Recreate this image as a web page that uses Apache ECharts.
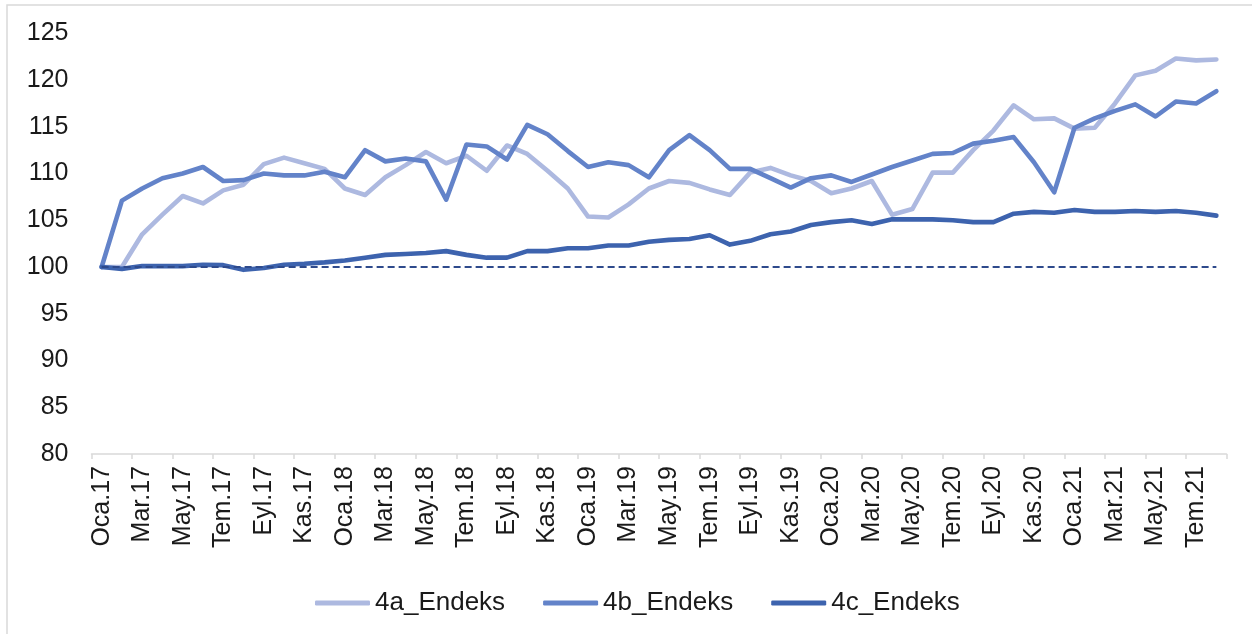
<!DOCTYPE html>
<html>
<head>
<meta charset="utf-8">
<script src="https://cdn.jsdelivr.net/npm/echarts@6/dist/echarts.min.js"></script>
<style>
  html, body { margin: 0; padding: 0; background: #ffffff; }
  #chart { width: 1252px; height: 634px; }
</style>
</head>
<body>
<div id="chart"></div>
<script>
const categories = [
  'Oca.17','Şub.17','Mar.17','Nis.17','May.17','Haz.17','Tem.17','Ağu.17','Eyl.17','Eki.17','Kas.17','Ara.17',
  'Oca.18','Şub.18','Mar.18','Nis.18','May.18','Haz.18','Tem.18','Ağu.18','Eyl.18','Eki.18','Kas.18','Ara.18',
  'Oca.19','Şub.19','Mar.19','Nis.19','May.19','Haz.19','Tem.19','Ağu.19','Eyl.19','Eki.19','Kas.19','Ara.19',
  'Oca.20','Şub.20','Mar.20','Nis.20','May.20','Haz.20','Tem.20','Ağu.20','Eyl.20','Eki.20','Kas.20','Ara.20',
  'Oca.21','Şub.21','Mar.21','Nis.21','May.21','Haz.21','Tem.21','Ağu.21'
];

const seriesNames = ['4a_Endeks', '4b_Endeks', '4c_Endeks'];

const endeks4a = [
  100.0, 100.0, 103.5, 105.6, 107.6, 106.8, 108.2, 108.8, 111.0, 111.7, 111.1, 110.5,
  108.4, 107.7, 109.6, 110.9, 112.3, 111.1, 111.9, 110.3, 113.0, 112.1, 110.3, 108.4,
  105.4, 105.3, 106.7, 108.4, 109.2, 109.0, 108.3, 107.7, 110.1, 110.6, 109.8, 109.2,
  107.9, 108.4, 109.2, 105.6, 106.2, 110.1, 110.1, 112.5, 114.6, 117.3, 115.8, 115.9,
  114.8, 114.9, 117.5, 120.5, 121.0, 122.3, 122.1, 122.2
];

const endeks4b = [
  100.0, 107.1, 108.4, 109.5, 110.0, 110.7, 109.2, 109.3, 110.0, 109.8, 109.8, 110.2,
  109.6, 112.5, 111.3, 111.6, 111.3, 107.2, 113.1, 112.9, 111.5, 115.2, 114.2, 112.4,
  110.7, 111.2, 110.9, 109.6, 112.5, 114.1, 112.5, 110.5, 110.5, 109.5, 108.5, 109.5,
  109.8, 109.1, 109.9, 110.7, 111.4, 112.1, 112.2, 113.2, 113.5, 113.9, 111.2, 108.0,
  114.9, 115.9, 116.7, 117.4, 116.1, 117.7, 117.5, 118.8
];

const endeks4c = [
  100.0, 99.8, 100.1, 100.1, 100.1, 100.25, 100.2, 99.7, 99.9, 100.25, 100.35, 100.5,
  100.7, 101.0, 101.3, 101.4, 101.5, 101.7, 101.3, 101.0, 101.0, 101.7, 101.7, 102.0,
  102.0, 102.3, 102.3, 102.7, 102.9, 103.0, 103.4, 102.4, 102.8, 103.5, 103.8, 104.5,
  104.8, 105.0, 104.6, 105.1, 105.1, 105.1, 105.0, 104.8, 104.8, 105.7, 105.9, 105.8,
  106.1, 105.9, 105.9, 106.0, 105.9, 106.0, 105.8, 105.5
];

const baseLevel = 100;
const yMin = 80, yMax = 125, yStep = 5;

const colors = ['#adb9e0', '#6383c9', '#3d63ae'];
const FONT = "Arial, 'Liberation Sans', sans-serif";

const chart = echarts.init(document.getElementById('chart'), null, { renderer: 'canvas' });

function lineSeries(name, data, color, extra) {
  return Object.assign({
    name: name,
    type: 'line',
    data: data,
    symbol: 'none',
    smooth: false,
    color: color,
    lineStyle: { color: color, width: 4.6, cap: 'round', join: 'round' },
    emphasis: { disabled: true }
  }, extra || {});
}

chart.setOption({
  animation: false,
  backgroundColor: '#ffffff',
  textStyle: { fontFamily: FONT },
  graphic: [{
    type: 'rect',
    shape: { x: 7, y: 5, width: 1400, height: 800 },
    style: { fill: 'none', stroke: '#d9d9d9', lineWidth: 1.5 },
    silent: true,
    z: -10
  }],
  grid: { left: 91.5, right: 25.5, top: 33.3, bottom: 180, containLabel: false },
  legend: {
    data: seriesNames,
    top: 583,
    left: 310,
    icon: 'roundRect',
    itemWidth: 55,
    itemHeight: 5,
    itemGap: 38,
    textStyle: { fontSize: 26, color: '#1a1a1a', fontFamily: FONT, lineHeight: 30 }
  },
  xAxis: {
    type: 'category',
    data: categories,
    boundaryGap: true,
    axisLine: { show: true, lineStyle: { color: '#d9d9d9', width: 1.5 } },
    axisTick: { show: true, interval: 1, length: 5, lineStyle: { color: '#d9d9d9', width: 1.5 } },
    axisLabel: {
      interval: 1,
      rotate: 90,
      margin: 12,
      fontSize: 25,
      color: '#1a1a1a',
      fontFamily: FONT
    },
    splitLine: { show: false }
  },
  yAxis: {
    type: 'value',
    min: yMin,
    max: yMax,
    interval: yStep,
    axisLine: { show: false },
    axisTick: { show: false },
    splitLine: { show: false },
    axisLabel: { fontSize: 25, color: '#1a1a1a', margin: 23, fontFamily: FONT }
  },
  series: [
    lineSeries(seriesNames[0], endeks4a, colors[0], { z: 2 }),
    lineSeries(seriesNames[1], endeks4b, colors[1], { z: 3 }),
    lineSeries(seriesNames[2], endeks4c, colors[2], {
      z: 4,
      markLine: {
        silent: true,
        symbol: ['none', 'none'],
        label: { show: false },
        z: 10,
        lineStyle: { color: '#2e4a8c', width: 2, type: [7, 4] },
        data: [[
          { coord: [categories[0], baseLevel] },
          { coord: [categories[categories.length - 1], baseLevel] }
        ]]
      }
    })
  ]
});
</script>
</body>
</html>
